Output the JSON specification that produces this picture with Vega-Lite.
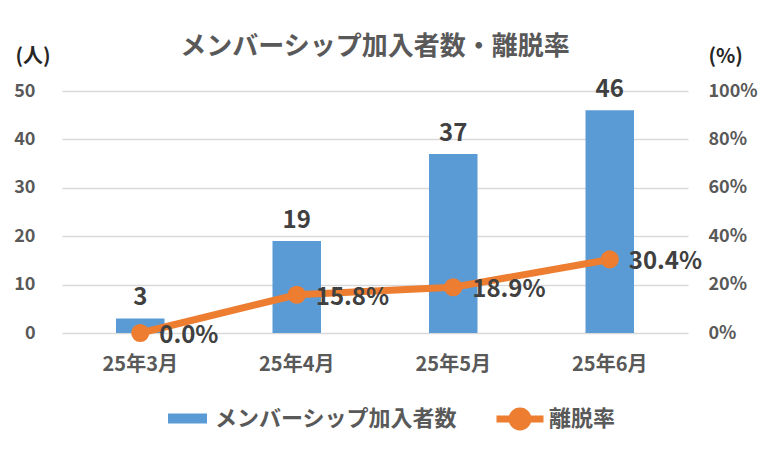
{
  "$schema": "https://vega.github.io/schema/vega-lite/v6.json",
  "width": 626,
  "height": 242,
  "autosize": {"type": "none"},
  "padding": {"left": 62, "top": 91, "right": 84, "bottom": 118},
  "background": "white",
  "config": {
    "font": "Noto Sans CJK JP",
    "view": {"stroke": null},
    "axis": {
      "domain": false,
      "ticks": false,
      "labelColor": "#595959",
      "labelFontSize": 18,
      "labelFontWeight": "bold",
      "titleColor": "#262626",
      "titleFontSize": 20,
      "titleFontWeight": "bold"
    },
    "legend": {
      "padding": 0,
      "labelColor": "#595959",
      "labelFontSize": 22,
      "labelFontWeight": "bold",
      "labelLimit": 400
    }
  },
  "title": {
    "text": "メンバーシップ加入者数・離脱率",
    "fontSize": 26,
    "fontWeight": "bold",
    "color": "#595959",
    "offset": -14
  },
  "data": {
    "values": [
      {"month": "25年3月", "members": 3, "churn": 0.0},
      {"month": "25年4月", "members": 19, "churn": 0.158},
      {"month": "25年5月", "members": 37, "churn": 0.189},
      {"month": "25年6月", "members": 46, "churn": 0.304}
    ]
  },
  "encoding": {
    "x": {
      "field": "month",
      "type": "nominal",
      "sort": null,
      "scale": {"paddingInner": 0.69, "paddingOuter": 0.345},
      "axis": {"title": null, "labelAngle": 0, "labelPadding": 21, "labelFontSize": 20}
    }
  },
  "layer": [
    {
      "encoding": {
        "y": {
          "field": "members",
          "type": "quantitative",
          "scale": {"domain": [0, 50]},
          "axis": {
            "orient": "left",
            "values": [0, 10, 20, 30, 40, 50],
            "grid": true,
            "gridColor": "#D9D9D9",
            "gridWidth": 1.5,
            "labelPadding": 27,
            "title": "(人)",
            "titleAngle": 0,
            "titleAlign": "left",
            "titleBaseline": "middle",
            "titleX": -47,
            "titleY": -35
          }
        }
      },
      "layer": [
        {
          "mark": {"type": "bar"},
          "encoding": {
            "fill": {
              "datum": "メンバーシップ加入者数",
              "scale": {"range": ["#5B9BD5"]},
              "legend": {
                "title": null,
                "orient": "none",
                "legendX": 106,
                "legendY": 308,
                "symbolType": "M-1,-0.26H1V0.26H-1Z",
                "symbolSize": 1521,
                "symbolStrokeWidth": 0,
                "labelOffset": 8
              }
            }
          }
        },
        {
          "mark": {
            "type": "text",
            "baseline": "bottom",
            "dy": -8,
            "fontSize": 24,
            "fontWeight": "bold",
            "color": "#404040"
          },
          "encoding": {"text": {"field": "members", "type": "quantitative"}}
        }
      ]
    },
    {
      "encoding": {
        "y": {
          "field": "churn",
          "type": "quantitative",
          "scale": {"domain": [0, 1]},
          "axis": {
            "orient": "right",
            "values": [0, 0.2, 0.4, 0.6, 0.8, 1],
            "format": ".0%",
            "grid": false,
            "labelPadding": 20,
            "title": "(%)",
            "titleAngle": 0,
            "titleAlign": "left",
            "titleBaseline": "middle",
            "titleX": 20,
            "titleY": -35
          }
        }
      },
      "layer": [
        {
          "mark": {
            "type": "line",
            "strokeWidth": 7,
            "point": {"filled": true, "fill": "#ED7D31", "size": 260}
          },
          "encoding": {
            "stroke": {
              "datum": "離脱率",
              "scale": {"range": ["#ED7D31"]},
              "legend": {
                "title": null,
                "orient": "none",
                "legendX": 431,
                "legendY": 301,
                "symbolType": "M-1,0H1M0.34,0A0.34,0.34 0 1 1 -0.34,0A0.34,0.34 0 1 1 0.34,0Z",
                "symbolSize": 2209,
                "symbolStrokeWidth": 7,
                "symbolFillColor": "#ED7D31",
                "labelOffset": 2
              }
            }
          }
        },
        {
          "mark": {
            "type": "text",
            "align": "left",
            "baseline": "middle",
            "dx": 19,
            "dy": 3,
            "fontSize": 24,
            "fontWeight": "bold",
            "color": "#404040"
          },
          "encoding": {"text": {"field": "churn", "type": "quantitative", "format": ".1%"}}
        }
      ]
    }
  ],
  "resolve": {"scale": {"y": "independent"}}
}
